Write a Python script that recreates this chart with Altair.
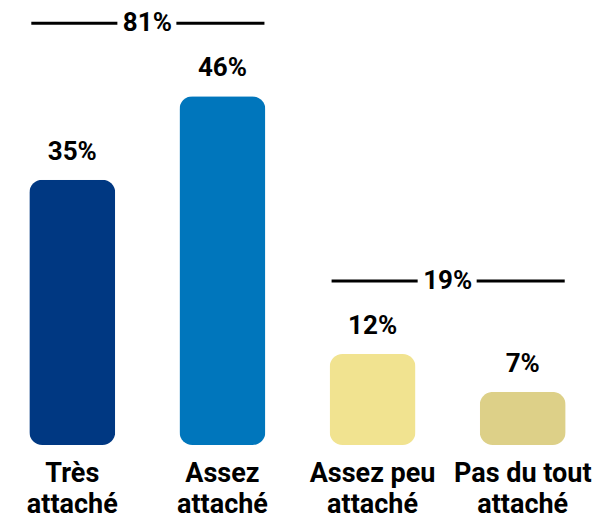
import altair as alt
import pandas as pd

categories = ["Très attaché", "Assez attaché", "Assez peu attaché", "Pas du tout attaché"]
label_lines = ["Très\nattaché", "Assez\nattaché", "Assez peu\nattaché", "Pas du tout\nattaché"]
values = [35, 46, 12, 7]
colors = ["#003882", "#0076bc", "#f1e390", "#ddd088"]

group_totals = [81, 19]
group_first = [0, 2]
group_last = [1, 3]

df = pd.DataFrame({
    "cat": categories,
    "label": label_lines,
    "value": values,
    "idx": list(range(len(categories))),
    "color": colors,
    "pct": [f"{v}%" for v in values],
})

gdf = pd.DataFrame({
    "start": group_first,
    "end": group_last,
    "mid": [(a + b) / 2 for a, b in zip(group_first, group_last)],
    "top": [max(values[a:b + 1]) for a, b in zip(group_first, group_last)],
    "txt": [f"{t}%" for t in group_totals],
})

xs = alt.Scale(domain=[-0.395, 3.508], nice=False, zero=False)
ys = alt.Scale(domain=[0, 57.65], nice=False, zero=True)

FONT = "Roboto"

base = alt.Chart(df)

bars = base.mark_bar(width=86, cornerRadius=13).encode(
    x=alt.X("idx:Q", scale=xs, axis=None),
    y=alt.Y("value:Q", scale=ys, axis=None),
    color=alt.Color("color:N", scale=None),
)

pct = base.mark_text(dy=-20, baseline="alphabetic", fontSize=26, fontWeight="bold",
                     font=FONT, color="black").encode(
    x=alt.X("idx:Q", scale=xs, axis=None),
    y=alt.Y("value:Q", scale=ys, axis=None),
    text="pct:N",
)

cats = base.mark_text(dy=37, baseline="alphabetic", lineBreak="\n", lineHeight=31,
                      fontSize=27, fontWeight="bold", font=FONT, color="black").encode(
    x=alt.X("idx:Q", scale=xs, axis=None),
    y=alt.value(437),
    text="label:N",
)

gbase = alt.Chart(gdf)
left_seg = gbase.mark_rule(strokeWidth=3, color="black", xOffset=-41, x2Offset=-30, yOffset=-73).encode(
    x=alt.X("start:Q", scale=xs, axis=None),
    x2="mid:Q",
    y=alt.Y("top:Q", scale=ys, axis=None),
)
right_seg = gbase.mark_rule(strokeWidth=3, color="black", xOffset=29, x2Offset=42, yOffset=-73).encode(
    x=alt.X("mid:Q", scale=xs, axis=None),
    x2="end:Q",
    y=alt.Y("top:Q", scale=ys, axis=None),
)
gtext = gbase.mark_text(dy=8, yOffset=-73, baseline="alphabetic", fontSize=26, fontWeight="bold",
                        font=FONT, color="black").encode(
    x=alt.X("mid:Q", scale=xs, axis=None),
    y=alt.Y("top:Q", scale=ys, axis=None),
    text="txt:N",
)

chart = alt.layer(bars, pct, cats, left_seg, right_seg, gtext).properties(
    width=596,
    height=437,
    autosize=alt.AutoSizeParams(type="none"),
    padding={"left": 0, "top": 0, "right": 0, "bottom": 74},
).configure_view(stroke=None)

chart.save("out.html", embed_options={"renderer": "svg", "actions": False})
